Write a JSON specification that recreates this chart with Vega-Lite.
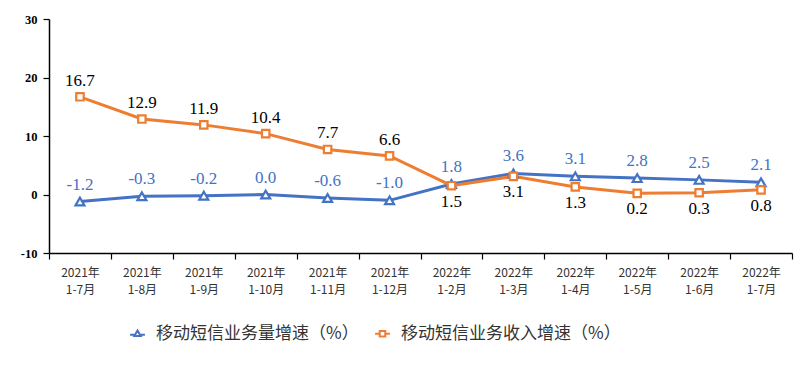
{
  "$schema": "https://vega.github.io/schema/vega-lite/v6.json",
  "autosize": "none",
  "width": 743,
  "height": 234,
  "padding": {"left": 49, "top": 19, "right": 13, "bottom": 122},
  "background": "white",
  "config": {
    "view": {"stroke": null},
    "axis": {"domainColor": "black", "tickColor": "black", "grid": false}
  },
  "data": {
    "values": [
      {"period": "2021年\n1-7月", "series": "移动短信业务量增速（%）", "value": -1.2},
      {"period": "2021年\n1-8月", "series": "移动短信业务量增速（%）", "value": -0.3},
      {"period": "2021年\n1-9月", "series": "移动短信业务量增速（%）", "value": -0.2},
      {"period": "2021年\n1-10月", "series": "移动短信业务量增速（%）", "value": 0.0},
      {"period": "2021年\n1-11月", "series": "移动短信业务量增速（%）", "value": -0.6},
      {"period": "2021年\n1-12月", "series": "移动短信业务量增速（%）", "value": -1.0},
      {"period": "2022年\n1-2月", "series": "移动短信业务量增速（%）", "value": 1.8},
      {"period": "2022年\n1-3月", "series": "移动短信业务量增速（%）", "value": 3.6},
      {"period": "2022年\n1-4月", "series": "移动短信业务量增速（%）", "value": 3.1},
      {"period": "2022年\n1-5月", "series": "移动短信业务量增速（%）", "value": 2.8},
      {"period": "2022年\n1-6月", "series": "移动短信业务量增速（%）", "value": 2.5},
      {"period": "2022年\n1-7月", "series": "移动短信业务量增速（%）", "value": 2.1},
      {"period": "2021年\n1-7月", "series": "移动短信业务收入增速（%）", "value": 16.7},
      {"period": "2021年\n1-8月", "series": "移动短信业务收入增速（%）", "value": 12.9},
      {"period": "2021年\n1-9月", "series": "移动短信业务收入增速（%）", "value": 11.9},
      {"period": "2021年\n1-10月", "series": "移动短信业务收入增速（%）", "value": 10.4},
      {"period": "2021年\n1-11月", "series": "移动短信业务收入增速（%）", "value": 7.7},
      {"period": "2021年\n1-12月", "series": "移动短信业务收入增速（%）", "value": 6.6},
      {"period": "2022年\n1-2月", "series": "移动短信业务收入增速（%）", "value": 1.5},
      {"period": "2022年\n1-3月", "series": "移动短信业务收入增速（%）", "value": 3.1},
      {"period": "2022年\n1-4月", "series": "移动短信业务收入增速（%）", "value": 1.3},
      {"period": "2022年\n1-5月", "series": "移动短信业务收入增速（%）", "value": 0.2},
      {"period": "2022年\n1-6月", "series": "移动短信业务收入增速（%）", "value": 0.3},
      {"period": "2022年\n1-7月", "series": "移动短信业务收入增速（%）", "value": 0.8}
    ]
  },
  "transform": [
    {"calculate": "replace(format(datum.value, '.1f'), '\u2212', '-')", "as": "label"}
  ],
  "encoding": {
    "x": {
      "field": "period",
      "type": "nominal",
      "sort": null,
      "scale": {"paddingInner": 0, "paddingOuter": 0},
      "axis": {
        "title": null,
        "labelAngle": 0,
        "labelExpr": "split(datum.label, '\\n')",
        "labelFont": "Noto Sans CJK SC",
        "labelFontSize": 12,
        "labelColor": "#333333",
        "labelLineHeight": 17,
        "labelPadding": 8,
        "labelBaseline": "top",
        "tickBand": "extent",
        "tickSize": 6,
        "domainWidth": 1.5,
        "tickWidth": 1.2
      }
    },
    "y": {
      "field": "value",
      "type": "quantitative",
      "scale": {"domain": [-10, 30], "nice": false, "zero": false},
      "axis": {
        "title": null,
        "values": [-10, 0, 10, 20, 30],
        "labelExpr": "replace(datum.label, '\u2212', '-')",
        "labelFont": "Liberation Serif",
        "labelFontWeight": "bold",
        "labelFontSize": 12.5,
        "labelColor": "black",
        "labelPadding": 6,
        "tickSize": 6,
        "domainWidth": 1.5,
        "tickWidth": 1.2
      }
    }
  },
  "layer": [
    {
      "mark": {"type": "line", "strokeWidth": 3},
      "encoding": {
        "color": {
          "field": "series",
          "type": "nominal",
          "scale": {
            "domain": ["移动短信业务量增速（%）", "移动短信业务收入增速（%）"],
            "range": ["#4472C4", "#ED7D31"]
          }
        }
      }
    },
    {
      "mark": {"type": "point", "filled": false, "opacity": 0, "size": 1},
      "encoding": {
        "color": {
          "field": "series",
          "type": "nominal",
          "legend": {
            "title": null,
            "orient": "none",
            "direction": "horizontal",
            "legendX": 80,
            "legendY": 306,
            "labelFont": "Noto Sans CJK SC",
            "labelFontSize": 17,
            "labelColor": "#333333",
            "labelLimit": 400,
            "labelOffset": 10,
            "columnPadding": 12,
            "symbolFillColor": "white",
            "symbolStrokeWidth": 2,
            "symbolSize": 55,
            "symbolOpacity": 1
          }
        },
        "shape": {
          "field": "series",
          "type": "nominal",
          "scale": {
            "domain": ["移动短信业务量增速（%）", "移动短信业务收入增速（%）"],
            "range": [
              "M-2,0.25H-0.9M0.9,0.25H2M0,-0.85L0.85,0.6H-0.85Z",
              "M-2,0H-0.75M0.75,0H2M-0.75,-0.75H0.75V0.75H-0.75Z"
            ]
          },
          "legend": {
            "title": null,
            "orient": "none",
            "direction": "horizontal",
            "legendX": 80,
            "legendY": 306,
            "labelFont": "Noto Sans CJK SC",
            "labelFontSize": 17,
            "labelColor": "#333333",
            "labelLimit": 400,
            "labelOffset": 10,
            "columnPadding": 12,
            "symbolFillColor": "white",
            "symbolStrokeWidth": 2,
            "symbolSize": 55,
            "symbolOpacity": 1
          }
        }
      }
    },
    {
      "transform": [{"filter": "datum.series == '移动短信业务量增速（%）'"}],
      "mark": {"type": "point", "shape": "triangle-up", "filled": false, "fill": "white", "fillOpacity": 1, "opacity": 1, "strokeWidth": 2.2, "size": 80, "color": "#4472C4"}
    },
    {
      "transform": [{"filter": "datum.series == '移动短信业务收入增速（%）'"}],
      "mark": {"type": "point", "shape": "square", "filled": false, "fill": "white", "fillOpacity": 1, "opacity": 1, "strokeWidth": 2.2, "size": 55, "color": "#ED7D31"}
    },
    {
      "transform": [{"filter": "datum.series == '移动短信业务量增速（%）'"}],
      "mark": {"type": "text", "dy": -17, "font": "Liberation Serif", "fontSize": 17, "color": "#4472C4", "baseline": "middle"},
      "encoding": {"text": {"field": "label", "type": "nominal"}}
    },
    {
      "transform": [{"filter": "datum.series == '移动短信业务收入增速（%）' && indexof(datum.period, '2021') >= 0"}],
      "mark": {"type": "text", "dy": -16, "font": "Liberation Serif", "fontSize": 17, "color": "black", "baseline": "middle"},
      "encoding": {"text": {"field": "label", "type": "nominal"}}
    },
    {
      "transform": [{"filter": "datum.series == '移动短信业务收入增速（%）' && indexof(datum.period, '2022') >= 0"}],
      "mark": {"type": "text", "dy": 16, "font": "Liberation Serif", "fontSize": 17, "color": "black", "baseline": "middle"},
      "encoding": {"text": {"field": "label", "type": "nominal"}}
    }
  ]
}
